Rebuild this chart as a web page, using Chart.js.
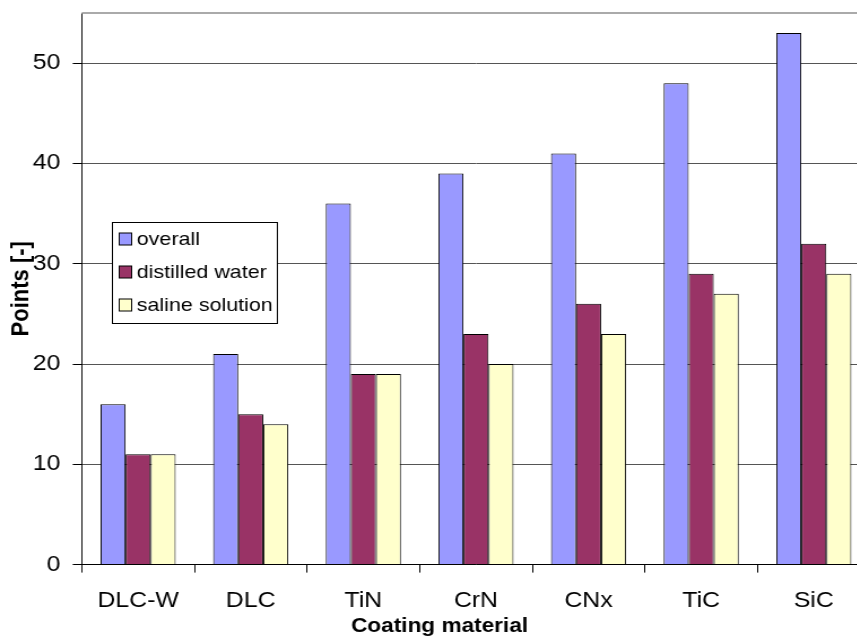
<!DOCTYPE html>
<html><head><meta charset="utf-8">
<script src="https://cdn.jsdelivr.net/npm/chart.js@4"></script>
<style>
html,body{margin:0;padding:0;background:#fff;overflow:hidden;}
#wrap{width:857px;height:636px;overflow:hidden;position:relative;}
#box{width:780px;height:636px;position:absolute;left:0;top:0;transform:scaleX(1.13);transform-origin:0 0;}
</style></head>
<body><div id="wrap"><div id="box"><canvas id="c"></canvas></div></div>
<script>
const categories = ["DLC-W","DLC","TiN","CrN","CNx","TiC","SiC"];
const overall = [16,21,36,39,41,48,53];
const distilledWater = [11,15,19,23,26,29,32];
const salineSolution = [11,14,19,20,23,27,29];
const seriesNames = ["overall","distilled water","saline solution"];
const yTicks = [0,10,20,30,40,50];
const xTitle = "Coating material";
const yTitle = "Points [-]";

const FONT = "'Liberation Sans', Arial, sans-serif";

const legendPlugin = {
  id:'insideLegend',
  afterDatasetsDraw(chart){
    const ctx = chart.ctx;
    const x0=99, y0=222, w=146, h=101;
    ctx.save();
    ctx.fillStyle='#fff';
    ctx.fillRect(x0,y0,w,h);
    ctx.strokeStyle='#000';
    ctx.lineWidth=1;
    ctx.strokeRect(x0+0.5,y0+0.5,w,h);
    ctx.font = "19px " + FONT;
    ctx.textBaseline='middle';
    chart.data.datasets.forEach((ds,i)=>{
      const cy = y0 + 17 + i*33;
      ctx.fillStyle = ds.backgroundColor;
      ctx.fillRect(x0+6.5, cy-6, 11, 12);
      ctx.strokeStyle='#000';
      ctx.strokeRect(x0+6.5, cy-6, 11, 12);
      ctx.fillStyle='#000';
      ctx.fillText(ds.label, x0+22, cy+1);
    });
    ctx.restore();
  }
};

const xTitlePlugin = {
  id:'xTitle',
  afterDraw(chart){
    const ctx=chart.ctx;
    ctx.save();
    ctx.font = "bold 20px " + FONT;
    ctx.fillStyle='#000';
    ctx.textAlign='center';
    ctx.textBaseline='alphabetic';
    ctx.fillText(xTitle, 389, 632);
    ctx.restore();
  }
};

new Chart(document.getElementById('c'),{
  type:'bar',
  data:{
    labels:categories,
    datasets:[
      {label:seriesNames[0],data:overall,backgroundColor:'#9999FF',borderColor:'#000',borderWidth:1},
      {label:seriesNames[1],data:distilledWater,backgroundColor:'#993366',borderColor:'#000',borderWidth:1},
      {label:seriesNames[2],data:salineSolution,backgroundColor:'#FFFFCC',borderColor:'#000',borderWidth:1}
    ]
  },
  options:{
    responsive:true,maintainAspectRatio:false,animation:false,
    layout:{padding:{left:4,right:10,top:13,bottom:7}},
    datasets:{bar:{categoryPercentage:0.667,barPercentage:1.0}},
    plugins:{legend:{display:false},tooltip:{enabled:false}},
    scales:{
      x:{
        offset:true,
        afterFit(axis){axis.paddingLeft=0;axis.paddingRight=0;},
        grid:{offset:true,drawOnChartArea:false,drawTicks:true,tickLength:8,color:'#000'},
        border:{color:'#000',width:1},
        ticks:{color:'#000',font:{family:FONT,size:22},padding:15,maxRotation:0},
        title:{display:false}
      },
      y:{
        min:0,max:55,
        afterBuildTicks(axis){axis.ticks = yTicks.map(v=>({value:v}));},
        afterFit(axis){axis.paddingTop=0;axis.paddingBottom=0;},
        grid:{color:'#555',tickLength:8,drawTicks:true,tickColor:'#000'},
        border:{color:'#000',width:1},
        ticks:{color:'#000',font:{family:FONT,size:22},padding:11},
        title:{display:true,text:yTitle,color:'#000',font:{family:FONT,size:22,weight:'bold'},padding:{top:2,bottom:-14.5}}
      }
    }
  },
  plugins:[legendPlugin,xTitlePlugin,{
    id:'topBorder',
    beforeDatasetsDraw(chart){
      const a=chart.chartArea, ctx=chart.ctx;
      ctx.save();ctx.strokeStyle='#aaa';ctx.lineWidth=2;
      ctx.beginPath();ctx.moveTo(a.left,a.top);ctx.lineTo(a.right,a.top);ctx.stroke();ctx.restore();
    }
  }]
});
</script></body></html>
